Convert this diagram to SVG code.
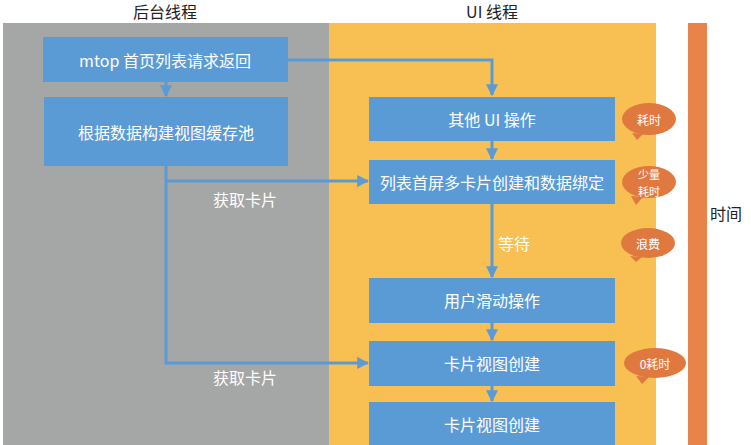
<svg xmlns="http://www.w3.org/2000/svg" width="751" height="445" viewBox="0 0 751 445">
<style>
.t{font-family:"Noto Sans CJK SC","Noto Sans",sans-serif;fill:#fff;font-size:16px;text-anchor:middle;dominant-baseline:central}
.h{font-family:"Noto Sans CJK SC","Noto Sans",sans-serif;fill:#222;font-size:16px;text-anchor:middle;dominant-baseline:central}
.b{font-size:12px}
.s{font-size:11px}
.box{fill:#5b9bd5}
.ln{stroke:#5b9bd5;stroke-width:3;fill:none}
.bub{fill:#e0793f}
</style>
<defs>
<marker id="ah" viewBox="0 0 10 10" refX="9" refY="5" markerWidth="4" markerHeight="4" orient="auto" markerUnits="strokeWidth">
<path d="M0,0 L10,5 L0,10 z" fill="#5b9bd5"/>
</marker>
</defs>
<rect x="0" y="0" width="751" height="445" fill="#fff"/>
<g id="lane-bg">
<rect x="3" y="23" width="326" height="422" fill="#a5a6a6"/>
<text class="h" x="165" y="11">后台线程</text>
</g>
<g id="lane-ui">
<rect x="329" y="23" width="327" height="422" fill="#f8c052"/>
<text class="h" x="492" y="11">UI 线程</text>
</g>
<g id="timebar">
<rect x="688" y="23" width="19" height="422" fill="#e8834a"/>
<text class="h" x="726" y="213">时间</text>
</g>
<g id="connectors">
<path class="ln" d="M288,60 H492 V95" marker-end="url(#ah)"/>
<path class="ln" d="M166,82 V96" marker-end="url(#ah)"/>
<path class="ln" d="M166,166 V363 H368" marker-end="url(#ah)"/>
<path class="ln" d="M166,181 H368" marker-end="url(#ah)"/>
<path class="ln" d="M492,141 V159" marker-end="url(#ah)"/>
<path class="ln" d="M492,204 V277" marker-end="url(#ah)"/>
<path class="ln" d="M492,323 V340" marker-end="url(#ah)"/>
<path class="ln" d="M492,386 V401" marker-end="url(#ah)"/>
<text class="t" x="245" y="199">获取卡片</text>
<text class="t" x="245" y="377">获取卡片</text>
<text class="t" x="514" y="243">等待</text>
</g>
<g id="n1"><rect class="box" x="43" y="37" width="245" height="45"/><text class="t" x="165" y="60">mtop 首页列表请求返回</text></g>
<g id="n2"><rect class="box" x="44" y="97" width="244" height="69"/><text class="t" x="166" y="132">根据数据构建视图缓存池</text></g>
<g id="n3"><rect class="box" x="369" y="97" width="246" height="44"/><text class="t" x="492" y="119">其他 UI 操作</text></g>
<g id="n4"><rect class="box" x="369" y="160" width="246" height="44"/><text class="t" x="492" y="182">列表首屏多卡片创建和数据绑定</text></g>
<g id="n5"><rect class="box" x="369" y="278" width="246" height="45"/><text class="t" x="492" y="300">用户滑动操作</text></g>
<g id="n6"><rect class="box" x="369" y="341" width="246" height="45"/><text class="t" x="492" y="363">卡片视图创建</text></g>
<g id="n7"><rect class="box" x="369" y="402" width="246" height="45"/><text class="t" x="492" y="424">卡片视图创建</text></g>
<g id="b1"><path class="bub" d="M632,133 L637,140 L643,134 z"/><ellipse class="bub" cx="649" cy="119" rx="27" ry="16"/><text class="t b" x="649" y="119">耗时</text></g>
<g id="b2"><path class="bub" d="M631,196 L636,205 L643,197 z"/><ellipse class="bub" cx="649" cy="182" rx="27" ry="16"/><text class="t s" x="649" y="174">少量</text><text class="t s" x="649" y="190.5">耗时</text></g>
<g id="b3"><path class="bub" d="M630,256 L636,262 L642,257 z"/><ellipse class="bub" cx="648" cy="243" rx="27" ry="15"/><text class="t b" x="648" y="243">浪费</text></g>
<g id="b4"><path class="bub" d="M636,376 L642,384 L649,377 z"/><ellipse class="bub" cx="655" cy="363" rx="31" ry="15"/><text class="t b" x="655" y="363">0耗时</text></g>
</svg>
